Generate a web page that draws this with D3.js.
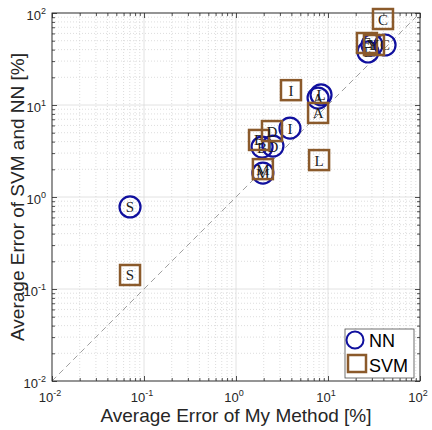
<html>
<head>
    <script src="https://d3js.org/d3.v7.min.js"></script>
    <style>
        body { margin: 0; background: #fff; }
    </style>
</head>
<body>
<svg id="chart"></svg>
<script>
    // dataset letters and average errors [%]
    const nnLetters = ["S", "M", "B", "D", "I", "A", "L", "E", "Y", "C"];
    const nnMine    = [0.0705, 1.96, 1.92, 2.52, 3.86, 7.8, 8.4, 27.2, 30.1, 41.7];
    const nnOther   = [0.78, 1.82, 3.49, 3.58, 5.6, 11.9, 12.9, 37.7, 44.9, 44.9];

    const svmLetters = ["S", "M", "B", "D", "I", "A", "L", "E", "Y", "C"];
    const svmMine    = [0.0705, 1.96, 1.78, 2.46, 3.96, 7.8, 8.0, 26.5, 31.6, 39.6];
    const svmOther   = [0.142, 2.01, 4.17, 5.21, 14.5, 8.2, 2.52, 47.2, 44.9, 86];

    const majorTicks = [0.01, 0.1, 1, 10, 100];
    const tickExponents = ["-2", "-1", "0", "1", "2"];

    const width = 432, height = 430;
    const margin = {left: 52, right: 12, top: 13, bottom: 49};
    const plotW = width - margin.left - margin.right;
    const plotH = height - margin.top - margin.bottom;

    const nnColor = "#10109e";
    const svmColor = "#8b5a2b";
    const sans = "Liberation Sans, Arial, sans-serif";

    // minor tick positions 2..9 for each decade
    const minorTicks = [];
    for (let i = 0; i < majorTicks.length - 1; i++) {
        for (let k = 2; k <= 9; k++) minorTicks.push(majorTicks[i] * k);
    }

    const svg = d3.select("#chart")
        .attr("width", width)
        .attr("height", height);

    const x = d3.scaleLog().domain([0.01, 100]).range([0, plotW]);
    const y = d3.scaleLog().domain([0.01, 100]).range([plotH, 0]);

    const g = svg.append("g")
        .attr("transform", `translate(${margin.left},${margin.top})`);

    // minor grid (dotted)
    g.append("g").selectAll("line").data(minorTicks).join("line")
        .attr("x1", d => x(d)).attr("x2", d => x(d))
        .attr("y1", 0).attr("y2", plotH)
        .attr("stroke", "#cfcfcf").attr("stroke-width", 0.7)
        .attr("stroke-dasharray", "1,2");
    g.append("g").selectAll("line").data(minorTicks).join("line")
        .attr("y1", d => y(d)).attr("y2", d => y(d))
        .attr("x1", 0).attr("x2", plotW)
        .attr("stroke", "#cfcfcf").attr("stroke-width", 0.7)
        .attr("stroke-dasharray", "1,2");

    // major grid (solid, light)
    g.append("g").selectAll("line").data(majorTicks).join("line")
        .attr("x1", d => x(d)).attr("x2", d => x(d))
        .attr("y1", 0).attr("y2", plotH)
        .attr("stroke", "#dadada").attr("stroke-width", 0.8);
    g.append("g").selectAll("line").data(majorTicks).join("line")
        .attr("y1", d => y(d)).attr("y2", d => y(d))
        .attr("x1", 0).attr("x2", plotW)
        .attr("stroke", "#dadada").attr("stroke-width", 0.8);

    // diagonal y = x
    g.append("line")
        .attr("x1", x(0.01)).attr("y1", y(0.01))
        .attr("x2", x(100)).attr("y2", y(100))
        .attr("stroke", "#a0a0a0").attr("stroke-width", 1)
        .attr("stroke-dasharray", "6,4");

    // axes with inward ticks on all four sides
    function styleAxis(sel) {
        sel.select(".domain").remove();
        sel.selectAll(".tick line").attr("stroke", "#262626").attr("stroke-width", 0.8);
        sel.selectAll(".tick text").remove();
    }
    const axes = [
        [d3.axisBottom, x, `translate(0,${plotH})`],
        [d3.axisTop, x, "translate(0,0)"],
        [d3.axisLeft, y, "translate(0,0)"],
        [d3.axisRight, y, `translate(${plotW},0)`]
    ];
    axes.forEach(([axisFn, sc, tr]) => {
        g.append("g").attr("transform", tr)
            .call(axisFn(sc).tickValues(majorTicks).tickSize(-5).tickFormat(""))
            .call(styleAxis);
        g.append("g").attr("transform", tr)
            .call(axisFn(sc).tickValues(minorTicks).tickSize(-3).tickFormat(""))
            .call(styleAxis);
    });

    // axes box
    g.append("rect")
        .attr("x", 0).attr("y", 0)
        .attr("width", plotW).attr("height", plotH)
        .attr("fill", "none").attr("stroke", "#262626").attr("stroke-width", 0.9);

    // tick labels 10^n
    const xLab = g.append("g").selectAll("text").data(majorTicks).join("text")
        .attr("x", d => x(d) - 2)
        .attr("y", plotH + 21)
        .attr("text-anchor", "middle")
        .attr("font-family", sans)
        .attr("fill", "#262626");
    xLab.append("tspan").attr("font-size", 13).text("10");
    xLab.append("tspan").attr("font-size", 9).attr("dy", -6).text((d, i) => tickExponents[i]);

    const yLab = g.append("g").selectAll("text").data(majorTicks).join("text")
        .attr("x", -6)
        .attr("y", d => y(d) + 7)
        .attr("text-anchor", "end")
        .attr("font-family", sans)
        .attr("fill", "#262626");
    yLab.append("tspan").attr("font-size", 13).text("10");
    yLab.append("tspan").attr("font-size", 9).attr("dy", -6).text((d, i) => tickExponents[i]);

    // axis titles
    svg.append("text")
        .attr("x", margin.left + plotW / 2)
        .attr("y", 422)
        .attr("text-anchor", "middle")
        .attr("font-family", sans)
        .attr("font-size", 19)
        .attr("fill", "#262626")
        .text("Average Error of My Method [%]");

    svg.append("text")
        .attr("transform", `translate(24,${margin.top + plotH / 2}) rotate(-90)`)
        .attr("text-anchor", "middle")
        .attr("font-family", sans)
        .attr("font-size", 19)
        .attr("fill", "#262626")
        .text("Average Error of SVM and NN [%]");

    // NN markers (circles)
    const nnData = nnLetters.map((l, i) => ({l, x: nnMine[i], y: nnOther[i]}));
    const nn = g.append("g").selectAll("g").data(nnData).join("g")
        .attr("transform", d => `translate(${x(d.x)},${y(d.y)})`);
    nn.append("circle").attr("r", 10.5)
        .attr("fill", "none").attr("stroke", nnColor).attr("stroke-width", 2.2);
    nn.append("text").text(d => d.l)
        .attr("text-anchor", "middle").attr("dy", 5.5)
        .attr("font-family", "Liberation Serif, serif").attr("font-size", 15)
        .attr("fill", "#1a1a1a");

    // SVM markers (squares)
    const svmData = svmLetters.map((l, i) => ({l, x: svmMine[i], y: svmOther[i]}));
    const sv = g.append("g").selectAll("g").data(svmData).join("g")
        .attr("transform", d => `translate(${x(d.x)},${y(d.y)})`);
    sv.append("rect").attr("x", -10).attr("y", -10).attr("width", 20).attr("height", 20)
        .attr("fill", "none").attr("stroke", svmColor).attr("stroke-width", 2.5);
    sv.append("text").text(d => d.l)
        .attr("text-anchor", "middle").attr("dy", 5.5)
        .attr("font-family", "Liberation Serif, serif").attr("font-size", 15)
        .attr("fill", "#1a1a1a");

    // legend
    const leg = svg.append("g");
    leg.append("rect")
        .attr("x", 345).attr("y", 329).attr("width", 69).attr("height", 49)
        .attr("fill", "#fff").attr("stroke", "#4d4d4d").attr("stroke-width", 0.8);
    leg.append("circle").attr("cx", 355).attr("cy", 340).attr("r", 8.5)
        .attr("fill", "none").attr("stroke", nnColor).attr("stroke-width", 2);
    leg.append("rect").attr("x", 348).attr("y", 355).attr("width", 18).attr("height", 17)
        .attr("fill", "none").attr("stroke", svmColor).attr("stroke-width", 2.5);
    leg.append("text").attr("x", 369).attr("y", 347)
        .attr("font-family", sans).attr("font-size", 18)
        .attr("fill", "#000").text("NN");
    leg.append("text").attr("x", 369).attr("y", 372)
        .attr("font-family", sans).attr("font-size", 18)
        .attr("fill", "#000").text("SVM");
</script>
</body>
</html>
